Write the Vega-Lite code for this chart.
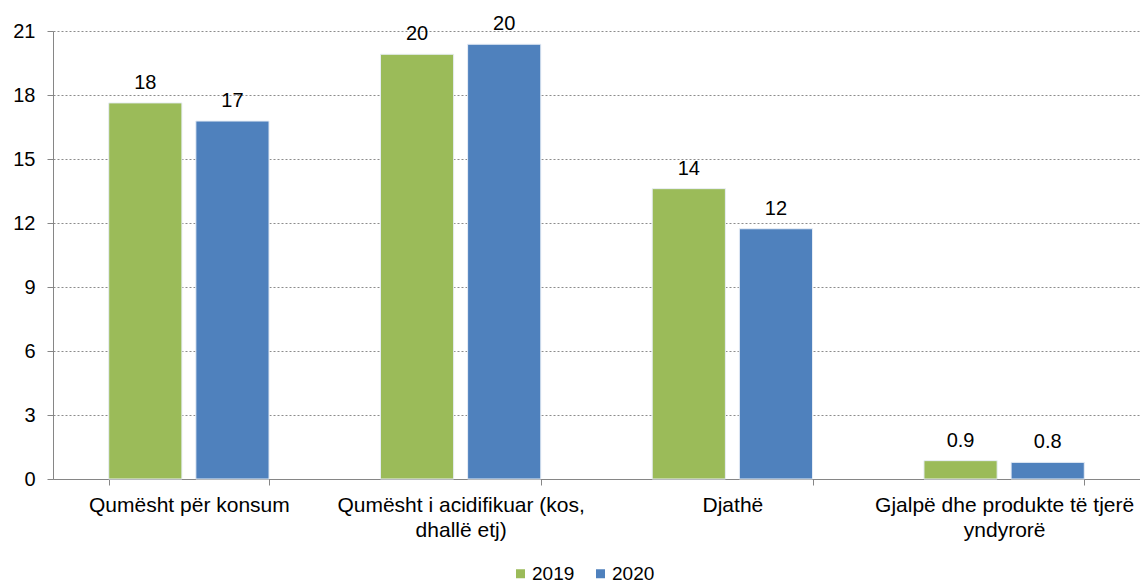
{
  "$schema": "https://vega.github.io/schema/vega-lite/v6.json",
  "autosize": "none",
  "width": 1087,
  "height": 448,
  "padding": {"left": 53, "top": 31, "right": 0, "bottom": 106},
  "background": "white",
  "config": {
    "view": {"stroke": null},
    "font": "Liberation Sans",
    "axis": {"labelFont": "Liberation Sans", "labelFontSize": 20, "labelColor": "#000000", "domainColor": "#868686", "tickColor": "#868686", "titleFont": "Liberation Sans"},
    "legend": {"labelFont": "Liberation Sans", "labelFontSize": 19, "labelColor": "#000000"}
  },
  "data": {
    "values": [
      {"category": "Qumësht për konsum", "year": "2019", "value": 17.63},
      {"category": "Qumësht për konsum", "year": "2020", "value": 16.78},
      {"category": "Qumësht i acidifikuar (kos, dhallë etj)", "year": "2019", "value": 19.91},
      {"category": "Qumësht i acidifikuar (kos, dhallë etj)", "year": "2020", "value": 20.38},
      {"category": "Djathë", "year": "2019", "value": 13.61},
      {"category": "Djathë", "year": "2020", "value": 11.73},
      {"category": "Gjalpë dhe produkte të tjerë yndyrorë", "year": "2019", "value": 0.86},
      {"category": "Gjalpë dhe produkte të tjerë yndyrorë", "year": "2020", "value": 0.78}
    ]
  },
  "transform": [
    {"calculate": "datum.value < 1 ? format(datum.value, '.1f') : format(datum.value, '.0f')", "as": "label"}
  ],
  "encoding": {
    "x": {
      "field": "category", "type": "nominal", "sort": null,
      "scale": {"paddingInner": 0.41, "paddingOuter": 0.205},
      "axis": {
        "title": null, "labelAngle": 0, "tickBand": "extent", "tickSize": 6,
        "labelPadding": 9, "labelLineHeight": 25, "labelLimit": 0, "labelFontSize": 21,
        "labelExpr": "datum.label == 'Qumësht i acidifikuar (kos, dhallë etj)' ? ['Qumësht i acidifikuar (kos,', 'dhallë etj)'] : datum.label == 'Gjalpë dhe produkte të tjerë yndyrorë' ? ['Gjalpë dhe produkte të tjerë', 'yndyrorë'] : datum.label"
      }
    },
    "xOffset": {"field": "year", "type": "nominal", "scale": {"paddingInner": 0.16, "paddingOuter": 0}},
    "y": {
      "field": "value", "type": "quantitative",
      "scale": {"domain": [0, 21], "nice": false},
      "axis": {
        "title": null, "values": [0, 3, 6, 9, 12, 15, 18, 21], "tickSize": 6, "labelPadding": 12,
        "grid": true, "gridDash": [2, 2], "gridColor": "#8c8c8c", "gridWidth": 1
      }
    },
    "color": {
      "field": "year", "type": "nominal",
      "scale": {"domain": ["2019", "2020"], "range": ["#9BBB59", "#4F81BD"]},
      "legend": {
        "title": null, "orient": "none", "direction": "horizontal",
        "legendX": 458, "legendY": 533, "symbolType": "square", "symbolSize": 81,
        "symbolStrokeWidth": 0, "columnPadding": 16, "labelOffset": 2
      }
    }
  },
  "layer": [
    {"mark": {"type": "bar", "stroke": "#e8eef6", "strokeWidth": 1}},
    {"mark": {"type": "text", "baseline": "alphabetic", "dy": -14, "fontSize": 20, "color": "#000000", "font": "Liberation Sans"},
     "encoding": {"text": {"field": "label"}, "color": {"value": "#000000"}}}
  ]
}
